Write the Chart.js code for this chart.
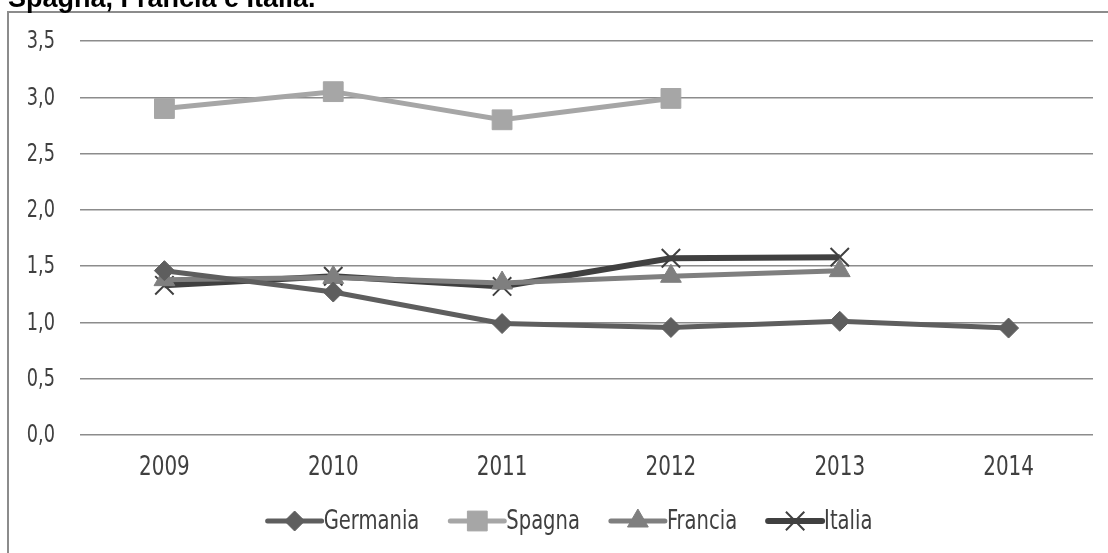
<!DOCTYPE html>
<html>
<head>
<meta charset="utf-8">
<script src="https://cdn.jsdelivr.net/npm/chart.js@4/dist/chart.umd.min.js"></script>
<style>
  html, body { margin: 0; padding: 0; background: #ffffff; }
  #wrap { position: relative; width: 1108px; height: 553px; }
</style>
</head>
<body>
<div id="wrap"><canvas id="chart" width="1108" height="553"></canvas></div>
<script>
// Years on the category axis
const years = ['2009', '2010', '2011', '2012', '2013', '2014'];

// Series values per country
const germania = [1.46, 1.27, 0.99, 0.955, 1.01, 0.95];
const spagna   = [2.90, 3.05, 2.80, 2.99, null, null];
const francia  = [1.38, 1.40, 1.35, 1.41, 1.46, null];
const italia   = [1.33, 1.41, 1.32, 1.57, 1.58, null];

// Value axis ticks
const yTicks = [0, 0.5, 1.0, 1.5, 2.0, 2.5, 3.0, 3.5];

const titleText = 'Spagna, Francia e Italia.';
const FONT = '"DejaVu Sans Condensed", "DejaVu Sans", sans-serif';
const TEXT_COLOR = '#404040';
const GRID_COLOR = '#8c8c8c';
const SQUEEZE = 0.82; // horizontal compression for the narrow label face

function series(label, data, color, style, radius, width, pbw) {
  return {
    label, data,
    borderColor: color, backgroundColor: color,
    pointBackgroundColor: color, pointBorderColor: color,
    borderWidth: width,
    pointStyle: style, pointRadius: radius, pointHoverRadius: radius,
    pointBorderWidth: pbw,
    spanGaps: false, tension: 0, fill: false
  };
}

const datasets = [
  series('Germania', germania, '#5e5e5e', 'rectRot', 10, 5, 1),
  series('Spagna',   spagna,   '#a6a6a6', 'rect',    14, 5, 1),
  series('Francia',  francia,  '#7f7f7f', 'triangle', 12, 5, 1),
  series('Italia',   italia,   '#404040', 'crossRot', 13, 6, 2)
];

// Draws text squeezed horizontally around its anchor point
function narrowText(ctx, text, x, y, align, size) {
  ctx.save();
  ctx.font = size + 'px ' + FONT;
  ctx.fillStyle = TEXT_COLOR;
  ctx.textAlign = align;
  ctx.textBaseline = 'middle';
  ctx.translate(x, y);
  ctx.scale(SQUEEZE, 1);
  ctx.fillText(text, 0, 0);
  ctx.restore();
}
function narrowWidth(ctx, text, size) {
  ctx.save();
  ctx.font = size + 'px ' + FONT;
  const w = ctx.measureText(text).width * SQUEEZE;
  ctx.restore();
  return w;
}

// Frame, heading, axis labels and legend row drawn on the canvas
const decorations = {
  id: 'decorations',
  beforeDraw(chart) {
    const ctx = chart.ctx;
    ctx.save();
    ctx.strokeStyle = GRID_COLOR;
    ctx.lineWidth = 2;
    ctx.beginPath();
    ctx.moveTo(8, chart.height);
    ctx.lineTo(8, 12);
    ctx.lineTo(chart.width, 12);
    ctx.stroke();
    ctx.fillStyle = '#000000';
    ctx.font = 'bold 27px "Liberation Sans", Arial, sans-serif';
    ctx.textBaseline = 'alphabetic';
    ctx.textAlign = 'left';
    ctx.fillText(titleText, 8, 7);
    ctx.restore();
  },
  afterDraw(chart) {
    const ctx = chart.ctx;
    const xs = chart.scales.x, ys = chart.scales.y;
    const area = chart.chartArea;

    // value axis labels
    ys.ticks.forEach((t, i) => {
      const py = ys.getPixelForTick(i);
      narrowText(ctx, t.value.toFixed(1).replace('.', ','), area.left - 25, py + 1, 'right', 24);
    });
    // category labels
    years.forEach((yr, i) => {
      narrowText(ctx, yr, xs.getPixelForTick(i), area.bottom + 33, 'center', 27);
    });

    // legend
    const lineLen = 58, gap = 29, y = 521, lsize = 26.5;
    const sets = chart.data.datasets;
    const widths = sets.map(d => lineLen + narrowWidth(ctx, d.label, lsize));
    const total = widths.reduce((a, b) => a + b, 0) + gap * (sets.length - 1);
    let x = chart.width / 2 + 15 - total / 2;
    ctx.save();
    sets.forEach((d, i) => {
      ctx.strokeStyle = d.borderColor;
      ctx.lineWidth = d.borderWidth;
      ctx.lineCap = 'round';
      ctx.beginPath();
      ctx.moveTo(x + 2, y);
      ctx.lineTo(x + lineLen - 2, y);
      ctx.stroke();
      ctx.lineCap = 'butt';
      ctx.fillStyle = d.pointBackgroundColor;
      ctx.strokeStyle = d.pointBorderColor;
      ctx.lineWidth = d.pointBorderWidth;
      Chart.helpers.drawPoint(ctx, {
        pointStyle: d.pointStyle, radius: d.pointRadius,
        rotation: 0, borderWidth: d.pointBorderWidth
      }, x + lineLen / 2, y);
      narrowText(ctx, d.label, x + lineLen, y + 1, 'left', lsize);
      x += widths[i] + gap;
    });
    ctx.restore();
  }
};

new Chart(document.getElementById('chart'), {
  type: 'line',
  data: { labels: years, datasets },
  plugins: [decorations],
  options: {
    responsive: false,
    animation: false,
    events: [],
    layout: { padding: { left: 0, right: 15, top: 41, bottom: 63 } },
    plugins: {
      legend: { display: false },
      title: { display: false },
      tooltip: { enabled: false }
    },
    scales: {
      x: {
        offset: true,
        grid: { display: false, drawTicks: false },
        border: { display: false },
        ticks: { display: false },
        afterFit(scale) { scale.height = 55; }
      },
      y: {
        min: 0, max: 3.5,
        afterBuildTicks(scale) { scale.ticks = yTicks.map(v => ({ value: v })); },
        grid: { color: GRID_COLOR, lineWidth: 1.5, drawTicks: false },
        border: { display: false },
        ticks: { display: false },
        afterFit(scale) { scale.width = 80; }
      }
    }
  }
});
</script>
</body>
</html>
